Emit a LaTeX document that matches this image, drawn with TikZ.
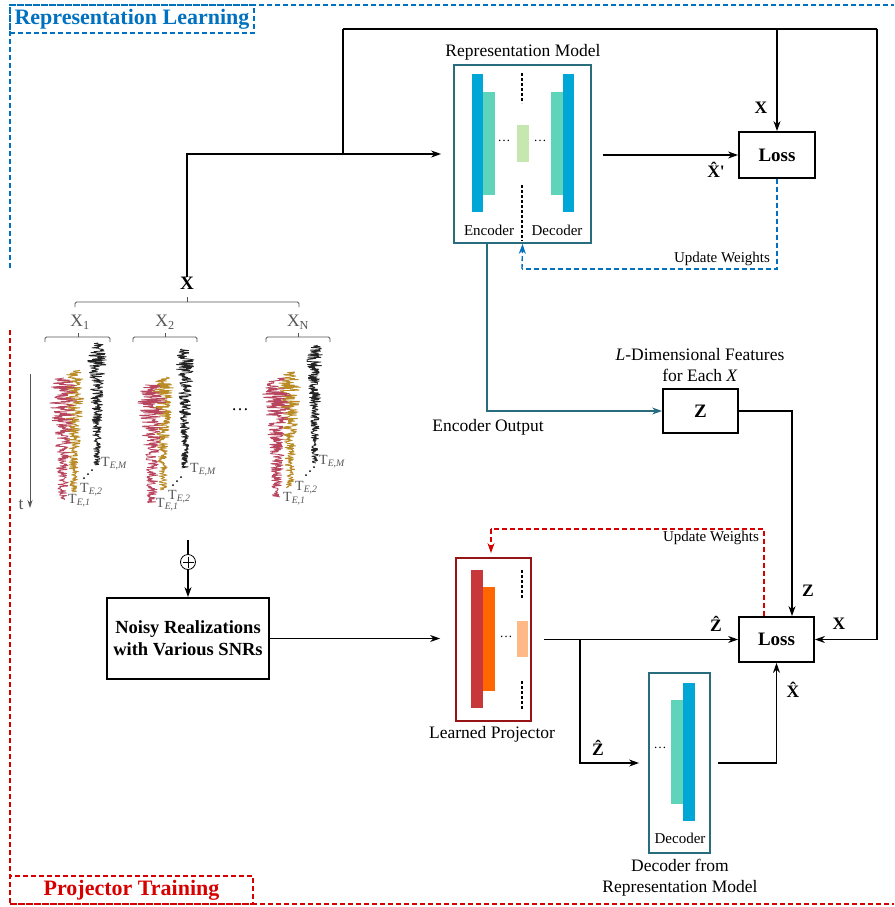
\documentclass[tikz,border=0pt]{standalone}
\usepackage{fontspec}
\setmainfont{Liberation Serif}
\usetikzlibrary{arrows.meta,calc}
\definecolor{rlblue}{RGB}{0,112,192}
\definecolor{ptred}{RGB}{214,0,0}
\definecolor{tealbox}{RGB}{40,108,125}
\definecolor{projred}{RGB}{150,20,20}
\definecolor{barblue}{RGB}{0,166,214}
\definecolor{barteal}{RGB}{94,212,186}
\definecolor{barlight}{RGB}{198,232,176}
\definecolor{barred}{RGB}{200,55,58}
\definecolor{barorange}{RGB}{255,102,0}
\definecolor{barpeach}{RGB}{255,185,135}
\definecolor{wred}{RGB}{185,70,95}
\definecolor{wgold}{RGB}{185,140,40}
\definecolor{wblack}{RGB}{35,35,35}
\definecolor{gtext}{RGB}{85,85,85}
\newcommand\mywave[5]{\draw[#5, line width=0.8pt, line join=round] plot[domain=0:1, samples=230, variable=\t] ({#1 + (#4*exp(-1.7*\t)*min(1,\t*5+0.4) + 1.5)*rand}, {#2 + #3*\t});}
\begin{document}
\begin{tikzpicture}[x=1pt,y=-1pt,
  conn/.style={line width=1.4pt, black},
  arr/.style={line width=1.4pt, -{Stealth[length=10pt,width=7pt]}},
  blkbox/.style={draw, line width=1.8pt, inner sep=0pt, font=\bfseries\fontsize{19}{22}\selectfont},
  tealframe/.style={draw=tealbox, line width=1.8pt, inner sep=0pt},
  lbl/.style={font=\fontsize{17.5}{20}\selectfont, inner sep=0pt},
  blbl/.style={font=\bfseries\fontsize{17.5}{20}\selectfont, inner sep=0pt},
  small/.style={font=\fontsize{15}{17}\selectfont, inner sep=0pt},
  dotsl/.style={font=\fontsize{13}{15}\selectfont, inner sep=0pt},
  tlab/.style={font=\fontsize{14}{16}\selectfont, text=gtext, inner sep=0pt, anchor=west},
  bracestyle/.style={draw=gtext, line width=0.8pt, rounded corners=1.5pt},
  regblue/.style={draw=rlblue, line width=1.4pt, dash pattern=on 5pt off 3pt},
  regred/.style={draw=ptred, line width=1.4pt, dash pattern=on 5pt off 3pt},
  innerdash/.style={line width=1.2pt, dash pattern=on 3pt off 2pt}
]
\useasboundingbox (0,0) rectangle (894,907);
\pgfmathsetseed{7}

% ---------- region frames ----------
\draw[regblue] (10,268) -- (10,5) -- (894,5);
\node[regblue, minimum width=244pt, minimum height=28pt, inner sep=0pt,
      font=\bfseries\fontsize{22}{24}\selectfont, text=rlblue] (rl) at (132,19) {Representation Learning};
\draw[regred] (10,330) -- (10,904) -- (894,904);
\node[regred, minimum width=243pt, minimum height=28pt, inner sep=0pt,
      font=\bfseries\fontsize{22}{24}\selectfont, text=ptred] (pt) at (131.5,890) {Projector Training};

% ---------- Representation model ----------
\node[tealframe, minimum width=137pt, minimum height=178pt] (rm) at (522.5,154) {};
\node[lbl] (rmt) at (523,52) {Representation Model};
\fill[barblue] (472,74) rectangle (483,212);
\fill[barteal] (483,92) rectangle (495,195);
\fill[barlight] (517,125) rectangle (529,162);
\fill[barteal] (551,92) rectangle (563,195);
\fill[barblue] (563,74) rectangle (574,212);
\draw[innerdash] (522,73) -- (522,103);
\draw[innerdash] (522,185) -- (522,241);
\node[dotsl] (rmd1) at (504,141) {\ldots};
\node[dotsl] (rmd2) at (540,141) {\ldots};
\node[small] (enc) at (489,230) {Encoder};
\node[small] (decl) at (557,230) {Decoder};

% ---------- Loss 1 ----------
\node[blkbox, minimum width=76pt, minimum height=46pt] (loss1) at (777,155) {Loss};

% ---------- Z box ----------
\node[blkbox, minimum width=75pt, minimum height=44pt] (z) at (700.5,411) {Z};
\node[lbl, align=center] (zt) at (700,365) {\textit{L}-Dimensional Features\\[1pt] for Each \textit{X}};
\node[lbl] (eo) at (488,427) {Encoder Output};

% ---------- Loss 2 ----------
\node[blkbox, minimum width=75pt, minimum height=45pt] (loss2) at (776.5,639.5) {Loss};

% ---------- Learned projector ----------
\node[draw=projred, line width=1.8pt, minimum width=75pt, minimum height=163pt, inner sep=0pt] (proj) at (493.5,639.5) {};
\fill[barred] (471,570) rectangle (483,708);
\fill[barorange] (483,587) rectangle (495,691);
\fill[barpeach] (517,621) rectangle (528,657);
\draw[innerdash] (522,570) -- (522,598);
\draw[innerdash] (522,681) -- (522,709);
\node[dotsl] (pd) at (506,637) {\ldots};
\node[lbl] (pjt) at (492,734) {Learned Projector};

% ---------- Decoder ----------
\node[tealframe, minimum width=61pt, minimum height=180pt] (dec) at (679.5,763) {};
\fill[barteal] (671,700) rectangle (683,804);
\fill[barblue] (683,683) rectangle (695,821);
\node[dotsl] (dd) at (660,748) {\ldots};
\node[small] (decn) at (680,838) {Decoder};
\node[lbl, align=center] (dect) at (680,878) {Decoder from\\[1pt] Representation Model};

% ---------- Noisy ----------
\node[blkbox, minimum width=162pt, minimum height=81pt, align=center,
      font=\bfseries\fontsize{18.5}{22}\selectfont] (noisy) at (188,638.5) {Noisy Realizations\\with Various SNRs};
\node[circle, draw, line width=0.8pt, minimum size=15pt, inner sep=0pt] (plus) at (188,562) {};
\draw[line width=0.8pt] (182.5,562) -- (193.5,562) (188,556.5) -- (188,567.5);
\coordinate (nin) at (188,540);
\draw[conn] (nin) -- (plus.north);
\draw[arr] (plus.south) -- (noisy.north);

% ---------- X and data ----------
\node[font=\bfseries\fontsize{19}{22}\selectfont, inner sep=0pt] (xn) at (187,283) {X};
\draw[bracestyle] (75,307) -- (75,302) -- (299,302) -- (299,307);
\draw[bracestyle] (187,302) -- (187,297);
\node[lbl, text=gtext] (x1) at (80,322) {X\textsubscript{1}};
\node[lbl, text=gtext] (x2) at (165,322) {X\textsubscript{2}};
\node[lbl, text=gtext] (xN) at (298,322) {X\textsubscript{N}};
\draw[bracestyle] (45,342) -- (45,337) -- (110,337) -- (110,342);
\draw[bracestyle] (78,337) -- (78,333);
\draw[bracestyle] (133,342) -- (133,337) -- (197,337) -- (197,342);
\draw[bracestyle] (165,337) -- (165,333);
\draw[bracestyle] (266,342) -- (266,337) -- (330,337) -- (330,342);
\draw[bracestyle] (298,337) -- (298,333);

% waveforms group 1
\mywave{97}{343}{122}{10}{wblack}
\mywave{74}{370}{122}{13}{wgold}
\mywave{63}{378}{122}{17}{wred}
% group 2
\mywave{185}{349}{119}{10}{wblack}
\mywave{163}{377}{113}{12}{wgold}
\mywave{152}{385}{118}{17}{wred}
% group N
\mywave{315}{345}{118}{9}{wblack}
\mywave{290}{372}{116}{13}{wgold}
\mywave{277}{378}{119}{17}{wred}

\node[tlab] (t1m) at (101,464) {T\textsubscript{\textit{E,M}}};
\node[tlab] (t12) at (80,490) {T\textsubscript{\textit{E,2}}};
\node[tlab] (t11) at (68,501) {T\textsubscript{\textit{E,1}}};
\node[tlab] (t2m) at (190,470) {T\textsubscript{\textit{E,M}}};
\node[tlab] (t22) at (168,497) {T\textsubscript{\textit{E,2}}};
\node[tlab] (t21) at (156,505) {T\textsubscript{\textit{E,1}}};
\node[tlab] (tnm) at (319,462) {T\textsubscript{\textit{E,M}}};
\node[tlab] (tn2) at (295,488) {T\textsubscript{\textit{E,2}}};
\node[tlab] (tn1) at (283,499) {T\textsubscript{\textit{E,1}}};
\foreach \d in {0,1,2} {
  \fill (84+4*\d,478-4*\d) circle (1pt);
  \fill (173+4*\d,485-4*\d) circle (1pt);
  \fill (306+4*\d,475-4*\d) circle (1pt);
}
\node[lbl] (gdots) at (240,410) {\ldots};
\coordinate (ta) at (30,374);
\coordinate (tb) at (30,508);
\draw[draw=gtext, line width=0.8pt, -{Stealth[length=8pt,width=5pt]}] (ta) -- (tb);
\node[lbl, text=gtext] (tl) at (21,505) {t};

% ---------- connectors ----------
\coordinate (b1) at (343,155);
\coordinate (tl1) at (343,29);
\coordinate (tr1) at (877,29);
\draw[arr, shorten >=12pt] (xn.north) |- (rm.west);
\draw[conn] (b1) -- (tl1);
\draw[arr] (tl1) -| (loss1.north);
\draw[conn] (tl1) -- (tr1);
\draw[arr] (tr1) |- (loss2.east);
\draw[arr, shorten <=11pt] (rm.east |- loss1.west) -- (loss1.west);
\node[blbl] (lx1) at (761,108) {X};
\node[blbl] (lxh1) at (716,170) {\^{X}\textquotesingle};

% blue update weights
\coordinate (uw1) at (777,269);
\draw[draw=rlblue, line width=1.4pt, dash pattern=on 5pt off 3pt] (loss1.south) -- (uw1) -- (522,269);
\draw[draw=rlblue, line width=1.4pt, dash pattern=on 5pt off 3pt, -{Stealth[length=10pt,width=7pt]}] (522,269) -- (rm.south);
\node[small] (uwt1) at (722,259) {Update Weights};

% encoder output
\draw[draw=tealbox, line width=1.4pt, -{Stealth[length=10pt,width=7pt]}] ([xshift=-35.5pt]rm.south) |- (z.west);
\draw[arr] (z.east) -| ([xshift=15.5pt]loss2.north);
\node[blbl] (lz) at (808,591) {Z};
\node[blbl] (lx2) at (839,624) {X};

% red update weights
\coordinate (uw2) at (764,529);
\draw[draw=ptred, line width=1.4pt, dash pattern=on 5pt off 3pt] ([xshift=-12.5pt]loss2.north) -- (uw2) -- (491,529);
\draw[draw=ptred, line width=1.4pt, dash pattern=on 5pt off 3pt, -{Stealth[length=10pt,width=7pt]}, shorten >=4pt] (491,529) -- (proj.north -| 491,0);
\node[small] (uwt2) at (711,538) {Update Weights};

% projector path
\draw[arr, shorten >=15pt] (noisy.east) -- (noisy.east -| proj.west);
\draw[arr, shorten <=12pt] (proj.east) -- (loss2.west);
\node[blbl] (lzh1) at (716,624) {\^{Z}};
\coordinate (br) at (580,639.5);
\draw[arr, shorten >=9pt] (br) |- (dec.west);
\node[blbl] (lzh2) at (598,748) {\^{Z}};
\draw[arr, shorten <=7pt] (dec.east) -| (loss2.south);
\node[blbl] (lxh2) at (793,690) {\^{X}};
\end{tikzpicture}
\end{document}
